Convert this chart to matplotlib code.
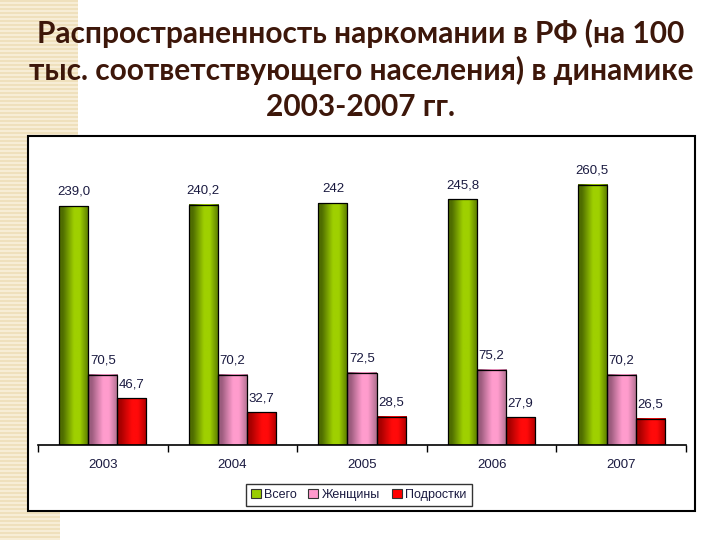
import numpy as np
import matplotlib
matplotlib.use("Agg")
import matplotlib.pyplot as plt
from matplotlib.colors import LinearSegmentedColormap
from matplotlib.patches import Rectangle, Patch

years = ["2003", "2004", "2005", "2006", "2007"]
total = [239.0, 240.2, 242, 245.8, 260.5]
women = [70.5, 70.2, 72.5, 75.2, 70.2]
teens = [46.7, 32.7, 28.5, 27.9, 26.5]
series_names = ["Всего", "Женщины", "Подростки"]
title = "Распространенность наркомании в РФ (на 100\nтыс. соответствующего населения) в динамике\n2003-2007 гг."

W, H = 720, 540
fig = plt.figure(figsize=(7.2, 5.4), dpi=100)

# decorative beige background (left strip) and outer chart box
bg = fig.add_axes([0, 0, 1, 1], zorder=-10)
bg.set_xlim(0, W)
bg.set_ylim(H, 0)
bg.axis("off")
pat = np.ones((H, W, 3))
beige = np.array([0.94, 0.88, 0.74])
light = np.array([0.97, 0.93, 0.84])
yy = np.arange(H)[:, None]
xx = np.arange(W)[None, :]
mask = (xx < 28) | ((xx < 78) & (yy < 140)) | ((xx < 60) & (yy > 511))
stripe = (yy % 4) < 2
col = np.where(stripe[..., None], beige, light)
pat = np.where(mask[..., None], col, pat)
bg.imshow(pat, extent=[0, W, H, 0], aspect="auto", interpolation="nearest", zorder=0)
bg.add_patch(Rectangle((28, 136), 667, 375, facecolor="white", edgecolor="black",
                       lw=1.5, zorder=1))
bg.set_xlim(0, W)
bg.set_ylim(H, 0)

# title
fig.text(361 / W, 1 - 70 / H, title, ha="center", va="center", fontsize=21.5,
         fontweight="bold", family="Lato", color="#3d170a", linespacing=1.33)

ax = fig.add_axes([38 / W, 1 - 445 / H, 648 / W, 280 / H])
ax.set_facecolor("none")
x = np.arange(len(years))
bw = 0.224

def cmap_for(dark_l, bright, dark_r):
    return LinearSegmentedColormap.from_list("c", [(0, dark_l), (0.12, dark_l), (0.5, bright), (0.7, bright), (1, dark_r)])

cmaps = [cmap_for("#4f6d00", "#9fd000", "#587800"),
         cmap_for("#9c5c7e", "#ff9ccd", "#b0708f"),
         cmap_for("#a80000", "#ff0a0a", "#b00000")]
face = ["#99cc00", "#ff99cc", "#ff0000"]
grad = np.linspace(0, 1, 64)[None, :]

for i, vals in enumerate([total, women, teens]):
    pos = x + (i - 1) * bw
    for p, v in zip(pos, vals):
        ax.imshow(grad, extent=[p - bw / 2, p + bw / 2, 0, v], aspect="auto",
                  cmap=cmaps[i], zorder=2, interpolation="bilinear")
    ax.bar(pos, vals, width=bw, fill=False, edgecolor="black", lw=0.9, zorder=3)
    for p, v in zip(pos, vals):
        ax.text(p, v + 8, str(v).replace(".", ","), ha="center", va="bottom",
                fontsize=9.5, family="Liberation Sans", color="#1a1a40")

ax.set_xlim(-0.5, len(years) - 0.5)
ax.set_ylim(0, 280)
for s in ["top", "right", "left"]:
    ax.spines[s].set_visible(False)
ax.spines["bottom"].set_linewidth(1.2)
ax.set_yticks([])
ax.set_xticks(x)
ax.set_xticklabels(years, fontsize=9.5, family="Liberation Sans", color="#1a1a40")
ax.tick_params(axis="x", which="major", length=0, pad=10)
ax.set_xticks(np.arange(len(years) + 1) - 0.5, minor=True)
ax.tick_params(axis="x", which="minor", length=5, width=1, direction="out")

handles = [Patch(facecolor=f, edgecolor="#333333", lw=0.8) for f in face]
leg = ax.legend(handles, series_names, loc="center", bbox_to_anchor=(0.495, -0.178),
                ncol=3, frameon=True, fancybox=False, edgecolor="black",
                handlelength=0.8, handleheight=0.8, handletextpad=0.3, columnspacing=0.9,
                borderpad=0.4, prop={"family": "Liberation Sans", "size": 9})
leg.get_frame().set_linewidth(1.0)
for t in leg.get_texts():
    t.set_color("#1a1a40")

fig.savefig("out.png", dpi=100)
